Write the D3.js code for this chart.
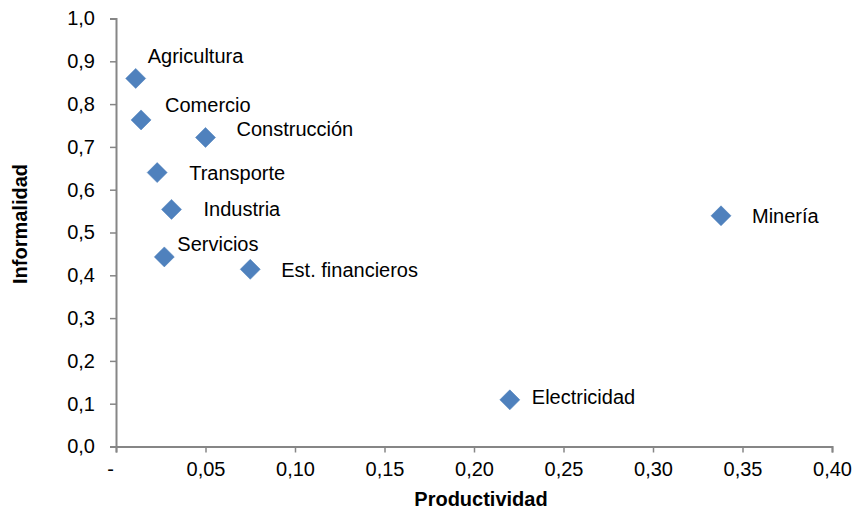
<!DOCTYPE html>
<html><head><meta charset="utf-8">
<script src="https://cdn.jsdelivr.net/npm/d3@7"></script>
<style>body{margin:0;background:#fff}svg{display:block}text{font-family:"Liberation Sans",Arial,sans-serif}</style>
</head><body><svg id="c" width="856" height="511"></svg>
<script>
const sectors = ["Agricultura","Comercio","Construcción","Transporte","Industria","Servicios","Est. financieros","Minería","Electricidad"];
const productividad = [0.011,0.014,0.050,0.023,0.031,0.027,0.075,0.338,0.220];
const informalidad = [0.860,0.763,0.722,0.640,0.554,0.443,0.414,0.539,0.109];
const xTicks = [0,0.05,0.10,0.15,0.20,0.25,0.30,0.35,0.40];
const yTicks = [0,0.1,0.2,0.3,0.4,0.5,0.6,0.7,0.8,0.9,1.0];
// label placement (layout only)
const labelDx = [12,24,31,32,32,13,31,31,22];
const labelDy = [-15,-8,-1,7,7,-6,8,7,4];

const svg = d3.select("#c");
const x = d3.scaleLinear().domain([0,0.4]).range([116,832]);
const y = d3.scaleLinear().domain([0,1]).range([446.5,18.5]);
const axisColor = "#868686";
const fmtX = d => d === 0 ? "-" : d3.format(".2f")(d).replace(".", ",");
const fmtY = d => d3.format(".1f")(d).replace(".", ",");

const gx = svg.append("g").attr("transform","translate(0,446.5)")
  .call(d3.axisBottom(x).tickValues(xTicks).tickSize(6).tickPadding(9).tickFormat(fmtX));
const gy = svg.append("g").attr("transform","translate(116,0)")
  .call(d3.axisLeft(y).tickValues(yTicks).tickSize(6).tickPadding(15).tickFormat(fmtY));
[gx,gy].forEach(g=>{
  g.select(".domain").attr("stroke",axisColor).attr("stroke-width",2);
  g.selectAll(".tick line").attr("stroke",axisColor).attr("stroke-width",1.5);
  g.selectAll(".tick text").attr("fill","#000").style("font-size","20px").style("font-family",'"Liberation Sans",Arial,sans-serif');
});
gx.selectAll(".tick text").filter(d=>d===0).attr("dx",-6);

const data = sectors.map((s,i)=>({s, px:productividad[i], py:informalidad[i], dx:labelDx[i], dy:labelDy[i]}));
const sym = d3.symbol().type(d3.symbolSquare).size(200);
svg.append("g").selectAll("path").data(data).join("path")
  .attr("d", sym)
  .attr("transform", d=>`translate(${x(d.px)},${y(d.py)}) rotate(45)`)
  .attr("fill","#4F81BD").attr("stroke","#4A7EBB").attr("stroke-width",0.5);

svg.append("g").selectAll("text").data(data).join("text")
  .attr("x", d=>x(d.px)+d.dx).attr("y", d=>y(d.py)+d.dy)
  .style("font-size","20px").attr("fill","#000").text(d=>d.s);

svg.append("text").attr("x",481).attr("y",506).attr("text-anchor","middle")
  .style("font-size","20px").style("font-weight","bold").text("Productividad");
svg.append("text").attr("transform","translate(27,224) rotate(-90)").attr("text-anchor","middle")
  .style("font-size","20px").style("font-weight","bold").text("Informalidad");
</script></body></html>
